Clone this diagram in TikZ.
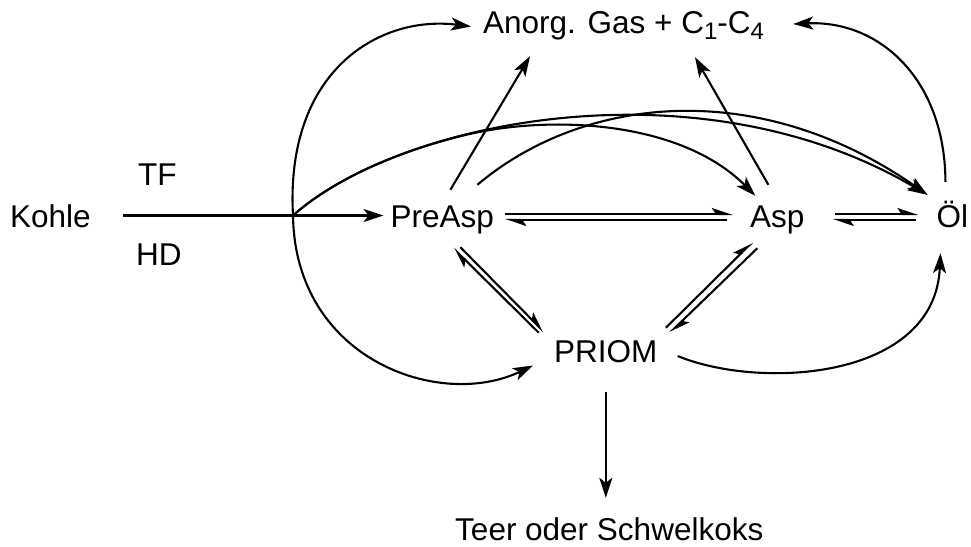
\documentclass[tikz,border=0pt]{standalone}
\usepackage{fontspec}
\setmainfont{Liberation Sans}
\usetikzlibrary{arrows.meta}
\newcommand\subidx[1]{\raisebox{-6pt}{\fontsize{24}{24}\selectfont #1}}
\begin{document}
\begin{tikzpicture}[x=1pt,y=-1pt,
  font=\fontsize{31.5}{36}\selectfont,
  lbl/.style={inner sep=0pt,text height=23pt,text depth=0pt,anchor=base west},
  conn/.style={line width=2.1pt},
  arr/.style={conn,-{Stealth[length=20pt,width=13pt,inset=5pt]}},
  harp/.style={conn,-{Stealth[length=18pt,width=12pt,inset=4pt,harpoon]}}]
\useasboundingbox (0,0) rectangle (971,546);
\node[lbl] (kohle) at (10,227) {Kohle};
\node[lbl] (tf) at (138,185) {TF};
\node[lbl] (hd) at (136,265) {HD};
\node[lbl] (preasp) at (390.5,227) {PreAsp};
\node[lbl] (asp) at (750,227) {Asp};
\node[lbl] (oel) at (936.5,227) {Öl};
\node[lbl] (priom) at (554,362) {PRIOM};
\node[lbl] (teer) at (455,540) {Teer oder Schwelkoks};
\node[lbl] (gas) at (483,33) {Anorg. Gas + C\subidx{1}-C\subidx{4}};
\coordinate (B) at (293,215.5);
% Kohle -> PreAsp
\draw[arr] ([xshift=32pt]kohle.east) -- ([xshift=-7pt]preasp.west);
% branches from the Kohle arrow
\draw[arr] (B) .. controls (285,70) and (380,15) .. ([xshift=-12pt,yshift=-5pt]gas.west);
\draw[arr] (B) .. controls (295,360) and (440,410) .. ([xshift=-21pt,yshift=-15pt]priom.west);
\draw[arr] (B) .. controls (330.45,182.1) and (391.5,153) .. (464.9,135.1)
  .. controls (548.7,114.7) and (680,120) .. ([xshift=-22pt,yshift=8pt]asp.north);
\draw[arr] (B) .. controls (400,120) and (700,60) .. ([xshift=-25pt,yshift=9pt]oel.north);
% PreAsp -> Oel
\draw[arr] ([xshift=35pt,yshift=19pt]preasp.north) .. controls (584,95) and (759,77) .. ([xshift=-25pt,yshift=9pt]oel.north);
% to gas
\draw[arr] ([xshift=8pt,yshift=14pt]preasp.north) -- ([xshift=47pt,yshift=-23pt]gas.south west);
\draw[arr] ([xshift=-9pt,yshift=19pt]asp.north) -- ([xshift=212pt,yshift=-24pt]gas.south west);
\draw[arr] ([xshift=-7pt,yshift=22pt]oel.north) .. controls (945,80) and (880,20) .. ([xshift=29pt,yshift=-2.5pt]gas.east);
% PRIOM -> Oel, PRIOM -> Teer
\draw[arr] ([xshift=20pt,yshift=-5.5pt]priom.east) .. controls (760,390) and (935,380) .. ([xshift=-12pt,yshift=-26pt]oel.south);
\draw[arr] ([yshift=-30pt]priom.south) -- ([yshift=19pt]priom.south |- teer.north);
% equilibria PreAsp / Asp
\draw[harp] ([xshift=11pt,yshift=1.5pt]preasp.east) -- ([xshift=-17pt,yshift=1.5pt]asp.west);
\draw[harp] ([xshift=-23pt,yshift=-4.5pt]asp.west) -- ([xshift=11pt,yshift=-4.5pt]preasp.east);
% Asp / Oel
\draw[harp] ([xshift=30pt,yshift=1.5pt]asp.east) -- ([xshift=-18pt,yshift=1.5pt]oel.west);
\draw[harp] ([xshift=-21pt,yshift=-4.5pt]oel.west) -- ([xshift=28pt,yshift=-4.5pt]asp.east);
% PreAsp / PRIOM
\draw[harp] ([xshift=-67pt,yshift=6pt]priom.north) -- ([xshift=11pt,yshift=-21pt]preasp.south);
\draw[harp] ([xshift=18pt,yshift=-20pt]preasp.south) -- ([xshift=-62pt,yshift=7pt]priom.north);
% Asp / PRIOM
\draw[harp] ([xshift=60pt,yshift=11pt]priom.north) -- ([xshift=-25pt,yshift=-15pt]asp.south);
\draw[harp] ([xshift=-20pt,yshift=-21pt]asp.south) -- ([xshift=64pt,yshift=6pt]priom.north);
\end{tikzpicture}
\end{document}
